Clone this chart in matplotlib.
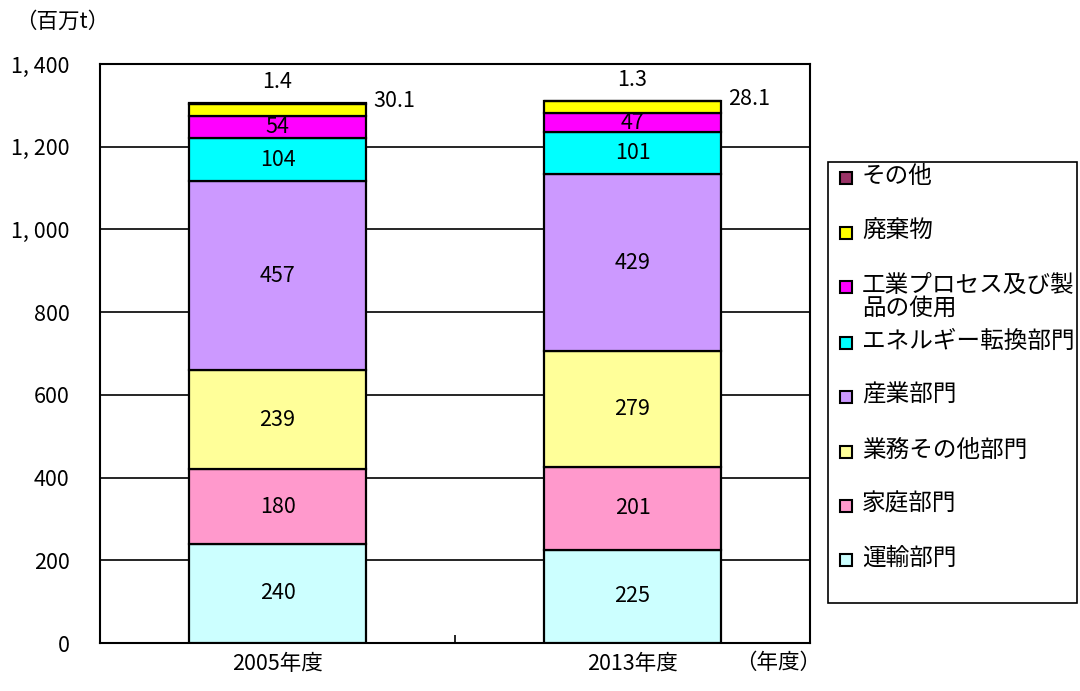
import matplotlib
matplotlib.use("Agg")
import matplotlib.pyplot as plt
from matplotlib.patches import Rectangle
import numpy as np

plt.rcParams['font.family'] = ['Noto Sans CJK JP', 'DejaVu Sans']

years = ["2005年度", "2013年度"]
sectors = ["運輸部門", "家庭部門", "業務その他部門", "産業部門",
           "エネルギー転換部門", "工業プロセス及び製\n品の使用", "廃棄物", "その他"]
colors = ["#CCFFFF", "#FF99CC", "#FFFF99", "#CC99FF",
          "#00FFFF", "#FF00FF", "#FFFF00", "#993366"]
values = [
    [240, 225],
    [180, 201],
    [239, 279],
    [457, 429],
    [104, 101],
    [54, 47],
    [30.1, 28.1],
    [1.4, 1.3],
]
yticks = [0, 200, 400, 600, 800, 1000, 1200, 1400]
ytick_labels = ["0", "200", "400", "600", "800", "1, 000", "1, 200", "1, 400"]

FS = 15.5

fig = plt.figure(figsize=(10.8, 6.91), dpi=100)
ax = fig.add_axes([100/1080, 1-643/691, 710/1080, (643-64)/691])

x = np.arange(len(years))
bottom = np.zeros(len(years))
for i, (name, col, vals) in enumerate(zip(sectors, colors, values)):
    vals = np.array(vals, dtype=float)
    ax.bar(x, vals, 0.5, bottom=bottom, color=col, edgecolor="black",
           linewidth=1.6, zorder=3)
    for xi, v, b in zip(x, vals, bottom):
        if i <= 5:
            ax.text(xi, b + v / 2, f"{v:g}", ha="center", va="center",
                    fontsize=FS, zorder=4)
        elif i == 6:
            ax.text(xi + 0.27, b + v + 6, f"{v:g}", ha="left", va="center",
                    fontsize=FS, zorder=4)
        else:
            ax.text(xi, b + v + 50, f"{v:g}", ha="center", va="center",
                    fontsize=FS, zorder=4)
    bottom += vals

ax.set_xlim(-0.5, 1.5)
ax.set_ylim(0, 1400)
ax.set_yticks(yticks)
ax.set_yticklabels(ytick_labels, fontsize=FS)
ax.set_xticks(x)
ax.set_xticklabels(years, fontsize=FS)
ax.tick_params(axis="both", length=0)
ax.tick_params(axis="y", pad=22)
ax.tick_params(axis="x", pad=7)
ax.set_xticks([0.5], minor=True)
ax.tick_params(axis="x", which="minor", direction="in", length=6, width=1.2)
ax.yaxis.grid(True, color="black", linewidth=1.2, zorder=0)
for s in ax.spines.values():
    s.set_linewidth(1.5)
    s.set_color("black")

fig.text(62/1080, 1-22/691, "（百万t）", ha="center", va="center", fontsize=FS)
fig.text(778/1080, 1-663/691, "（年度）", ha="center", va="center", fontsize=FS)

# legend box
fig.patches.append(Rectangle((828/1080, 1-603/691), (1077-828)/1080, (603-162)/691,
                             transform=fig.transFigure, facecolor="white",
                             edgecolor="black", linewidth=1.2))
leg_y = [178, 233, 287, 343, 397, 452, 506, 560]
for name, col, ly in zip(sectors[::-1], colors[::-1], leg_y):
    fig.patches.append(Rectangle((840/1080, 1-(ly+6)/691), 12/1080, 12/691,
                                 transform=fig.transFigure, facecolor=col,
                                 edgecolor="black", linewidth=1.5))
    fig.text(862/1080, 1-(ly-13)/691, name, ha="left", va="top",
             fontsize=17, linespacing=1.0)

fig.savefig("out.png", dpi=100)
